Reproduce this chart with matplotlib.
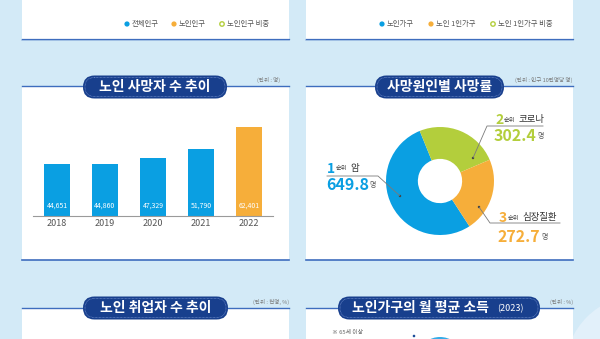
import matplotlib
matplotlib.use('Agg')

import matplotlib.pyplot as plt
from matplotlib.patches import FancyBboxPatch, Rectangle, Circle, Ellipse

plt.rcParams['font.family'] = ['Noto Sans CJK KR', 'DejaVu Sans']

# data
years = ['2018', '2019', '2020', '2021', '2022']
deaths = [44651, 44860, 47329, 51790, 62401]
causes = ['암', '코로나', '심장질환']
ranks = ['1', '2', '3']
rates = [649.8, 302.4, 272.7]
legend_top_left = ['전체인구', '노인인구', '노인인구 비중']
legend_top_right = ['노인가구', '노인 1인가구', '노인 1인가구 비중']

W, H = 600, 339
BG = '#D3EAF7'
NAVY = '#183F8D'
LINE = '#3E6DBE'
BLUE = '#0A9FE2'
ORANGE = '#F6AE3A'
GREEN = '#B3CE3C'

fig = plt.figure(figsize=(6, 3.39), dpi=100)
fig.patch.set_facecolor(BG)


def px_axes(x0, y0, x1, y1, z=1):
    return fig.add_axes([x0 / W, 1 - y1 / H, (x1 - x0) / W, (y1 - y0) / H], zorder=z)


bg = px_axes(0, 0, W, H, 0)
bg.set_xlim(0, W)
bg.set_ylim(H, 0)
bg.axis('off')

# decorative circle at right edge
bg.add_patch(Circle((640, 370), 75, color='#E2F0FA', lw=0))

# white panels
for x0, x1 in [(22, 289), (306, 573)]:
    bg.add_patch(Rectangle((x0, -5), x1 - x0, 44, color='white', lw=0))
    bg.plot([x0, x1], [39.5, 39.5], color='#A9C6E8', lw=1.2)
    bg.plot([x0, x1], [39, 39], color=LINE, lw=0.9)
    bg.add_patch(Rectangle((x0, 86), x1 - x0, 174, color='white', lw=0))
    bg.plot([x0, x1], [86, 86], color=LINE, lw=1.0)
    bg.plot([x0, x1], [260, 260], color=LINE, lw=1.2)
    bg.add_patch(Rectangle((x0, 308), x1 - x0, 40, color='white', lw=0))
    bg.plot([x0, x1], [308, 308], color=LINE, lw=1.0)

# top legends
def legend_row(items, xs, y):
    for (label, x, c) in zip(items, xs, [BLUE, ORANGE, GREEN]):
        if c == GREEN:
            bg.add_patch(Circle((x, y), 2.2, facecolor='white', edgecolor=c, lw=1.0))
        else:
            bg.add_patch(Circle((x, y), 2.6, color=c, lw=0))
        bg.text(x + 5, y, label, fontsize=5.3, color='#555555', va='center', ha='left')


legend_row(legend_top_left, [127, 174, 222], 24)
legend_row(legend_top_right, [382, 431, 493], 24)


# title pills
def pill(x0, x1, yc, text, size=10):
    h = 23
    bg.add_patch(FancyBboxPatch((x0, yc - h / 2), x1 - x0, h,
                                boxstyle='round,pad=0,rounding_size=11.5',
                                facecolor=NAVY, edgecolor='none', zorder=3))
    bg.add_patch(FancyBboxPatch((x0 + 2, yc - h / 2 + 2), x1 - x0 - 4, h - 4,
                                boxstyle='round,pad=0,rounding_size=9.5',
                                facecolor='none', edgecolor='#7C98D4', lw=0.5,
                                linestyle=(0, (1, 1)), zorder=4))
    bg.text((x0 + x1) / 2, yc, text, color='white', fontsize=size, fontweight='bold',
            ha='center', va='center', zorder=5)


pill(83, 227, 87, '노인 사망자 수 추이')
pill(375, 504, 87, '사망원인별 사망률')
pill(83, 228, 308, '노인 취업자 수 추이')
pill(338, 540, 308, '', 10)
bg.text(352, 308, '노인가구의 월 평균 소득', color='white', fontsize=10, fontweight='bold',
        ha='left', va='center', zorder=5)
bg.text(497, 309, '(2023)', color='white', fontsize=6.5, ha='left', va='center', zorder=5)

# unit labels
unit_kw = dict(fontsize=4, color='#777777', va='center')
bg.text(280, 80, '(단위 : 명)', ha='right', **unit_kw)
bg.text(572, 80, '(단위 : 인구 10만명당 명)', ha='right', **unit_kw)
bg.text(289, 302, '(단위 : 천명, %)', ha='right', **unit_kw)
bg.text(573, 302, '(단위 : %)', ha='right', **unit_kw)
bg.text(332, 332, '※ 65세 이상', fontsize=4.2, color='#666666', ha='left', va='center')

# partial bubble at bottom
bg.add_patch(Ellipse((440, 352), 38, 30, color='#35ACE8', lw=0, zorder=2))
bg.add_patch(Circle((414, 336), 1.3, color='#1B4C99', lw=0, zorder=2))

# bar chart
ax = px_axes(33, 112, 273, 216, 2)
ax.patch.set_alpha(0)
colors = [BLUE] * 4 + [ORANGE]
xpos = range(len(years))
ax.bar(xpos, deaths, width=0.56, color=colors, edgecolor='none')
for i, v in enumerate(deaths):
    ax.text(i, 19700 + 4800, f'{v:,}', color='white', fontsize=5, ha='center', va='center')
ax.set_xlim(-0.5, 4.5)
ax.set_ylim(19700, 69600)
ax.set_xticks(list(xpos))
ax.set_xticklabels(years, fontsize=6.5, color='#555555')
ax.tick_params(axis='x', length=0, pad=2)
ax.set_yticks([])
for s in ['top', 'right', 'left']:
    ax.spines[s].set_visible(False)
ax.spines['bottom'].set_color('#9A9A9A')
ax.spines['bottom'].set_linewidth(0.8)

# donut
pa = px_axes(386, 127, 494, 235, 2)
pa.patch.set_alpha(0)
pa.pie(rates, colors=[BLUE, GREEN, ORANGE], startangle=303, counterclock=False,
       radius=1, wedgeprops=dict(width=0.59, edgecolor='none'))
pa.set_xlim(-1, 1)
pa.set_ylim(-1, 1)
pa.set_aspect('equal')
pa.axis('off')

# donut labels
top = px_axes(0, 0, W, H, 5)
top.patch.set_alpha(0)
top.set_xlim(0, W)
top.set_ylim(H, 0)
top.axis('off')

label_pos = [
    # rank x, y ; value y ; leader line points ; dot ; color
    (327, 169, 185, [(327, 176), (378, 176), (400, 196)], (400, 196), BLUE),
    (495, 120, 136, [(543, 126), (487, 126), (473, 158)], (473, 158), GREEN),
    (499, 218, 237, [(479, 207), (490, 223), (560, 223)], (479, 207), ORANGE),
]
for (rank, name, val, (x, y, vy, pts, dot, c)) in zip(ranks, causes, rates, label_pos):
    rt = top.text(x, y, rank, color=c, fontsize=10, fontweight='bold', ha='left', va='center')
    st = top.annotate('순위', xy=(1, 0.25), xycoords=rt, xytext=(0.3, 0),
                      textcoords='offset points', color='#444444', fontsize=4.5,
                      ha='left', va='bottom')
    top.annotate(name, xy=(1, 0.5), xycoords=st, xytext=(2.5, 0),
                 textcoords='offset points', color='#333333', fontsize=6.8,
                 ha='left', va='center')
    vt = top.text(x - 1, vy, f'{val}', color=c, fontsize=11.5, fontweight='bold',
                  ha='left', va='center')
    top.annotate('명', xy=(1, 0.22), xycoords=vt, xytext=(0.5, 0),
                 textcoords='offset points', color='#555555', fontsize=5,
                 ha='left', va='bottom')
    xs, ys = zip(*pts)
    top.plot(xs, ys, color='#7A7A7A', lw=0.6)
    top.add_patch(Circle(dot, 1.2, color='#3A3A3A', lw=0))

fig.savefig('out.png', dpi=100, facecolor=BG)
